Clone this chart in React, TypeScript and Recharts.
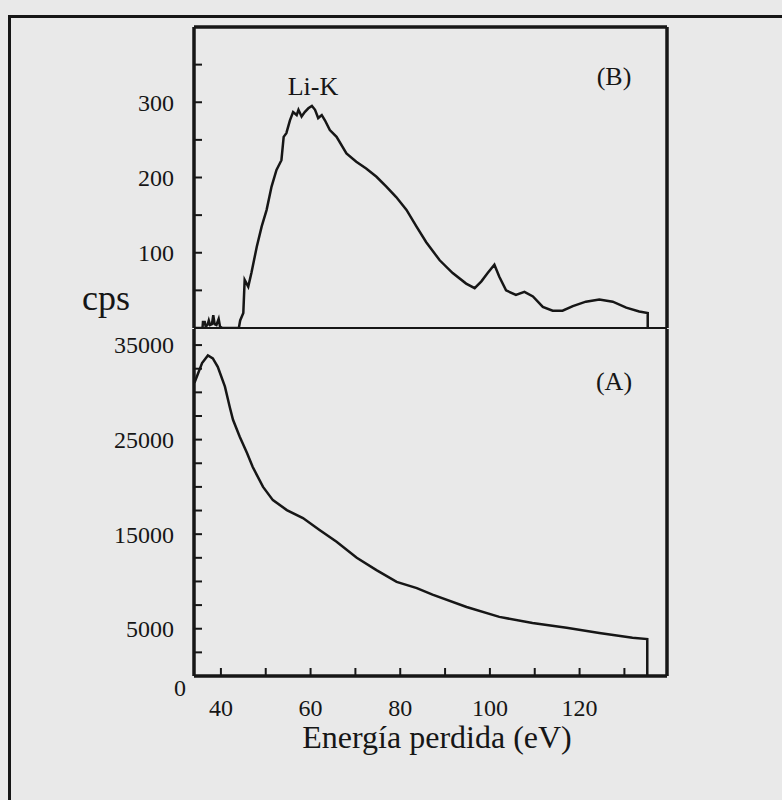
import React from "react";
import { LineChart, Line, XAxis, YAxis, Text } from "recharts";

// energy loss (eV) and counts
const bEnergy = [
  34, 35.9, 36.0, 36.4, 36.6, 37.0, 37.3, 37.6, 38.0, 38.3, 38.6, 39.0, 39.5, 39.8, 40.3,
  44.0, 44.3, 45.0, 45.3, 46.1, 46.8, 48.0, 49.1, 50.2, 51.3, 52.4, 53.5, 54.0, 54.6,
  55.4, 56.1, 56.9, 57.3, 58.0, 58.7, 59.5, 60.3, 61.0, 61.7, 62.5, 63.2, 64.3, 65.8,
  68.0, 70.2, 72.4, 74.7, 76.9, 79.1, 81.4, 83.6, 85.8, 88.8, 91.7, 94.7, 96.6, 98.1,
  99.5, 101.0, 102.1, 103.6, 105.8, 107.7, 109.6, 111.8, 114.0, 116.2, 118.5, 121.4,
  124.4, 127.4, 130.4, 133.3, 135.2, 135.2,
];
const bCounts = [
  0, 0, 8, 8, 2, 4, 10, 4, 5, 17, 5, 4, 12, 2, 0,
  0, 10, 20, 64, 55, 73, 108, 135, 157, 188, 210, 223, 254, 259,
  276, 287, 283, 290, 281, 287, 292, 295, 290, 279, 283, 276, 263, 254,
  232, 221, 212, 201, 188, 174, 157, 135, 114, 90, 73, 59, 53, 62,
  73, 84, 68, 50, 44, 48, 42, 28, 23, 23, 29, 35,
  38, 35, 27, 22, 20, 0,
];

const aEnergy = [
  34.1, 34.9, 35.8, 37.1, 38.2, 39.3, 40.9, 42.0, 42.7, 44.2, 45.8, 47.1, 49.4, 51.6,
  54.7, 58.3, 62.0, 65.8, 70.3, 74.7, 79.2, 83.7, 87.2, 94.8, 102.1, 109.5, 117.1,
  124.4, 131.8, 135.1, 135.1,
];
const aCounts = [
  31000, 32000, 33100, 33900, 33600, 32700, 30600, 28400, 27100, 25300, 23600, 22100,
  20000, 18600, 17550, 16700, 15450, 14200, 12500, 11200, 9950, 9300, 8600, 7300, 6250,
  5600, 5100, 4550, 4050, 3900, 0,
];

const xTicks = [40, 50, 60, 70, 80, 90, 100, 110, 120, 130];
const xLabels = [40, 60, 80, 100, 120];
const bTicks = [0, 50, 100, 150, 200, 250, 300, 350];
const bLabels = [100, 200, 300];
const aTicks = [0, 2500, 5000, 7500, 10000, 12500, 15000, 17500, 20000, 22500, 25000, 27500, 30000, 32500, 35000];
const aLabels = [5000, 15000, 25000, 35000];

const bData = bEnergy.map((e, i) => ({ e, c: bCounts[i] }));
const aData = aEnergy.map((e, i) => ({ e, c: aCounts[i] }));

const INK = "#161616";
const FONT = "'Liberation Serif', 'DejaVu Serif', serif";
const X_DOMAIN: [number, number] = [34, 139.5];

const makeYTick = (labels: number[], showZero: boolean) => (props: any) => {
  const { x, y, payload } = props;
  const v = payload.value;
  return (
    <g>
      {v !== 0 && <line x1={x} x2={x + 8} y1={y} y2={y} stroke={INK} strokeWidth={2} />}
      {labels.includes(v) && (
        <text x={x - 20} y={y} dy="0.35em" textAnchor="end" fontSize={24} fontFamily={FONT} fill={INK}>
          {v}
        </text>
      )}
      {showZero && v === 0 && (
        <text x={x - 14} y={y + 12} dy="0.35em" textAnchor="middle" fontSize={24} fontFamily={FONT} fill={INK}>
          0
        </text>
      )}
    </g>
  );
};

const XTick = (props: any) => {
  const { x, y, payload } = props;
  const v = payload.value;
  return (
    <g>
      <line x1={x} x2={x} y1={y} y2={y - 8} stroke={INK} strokeWidth={2} />
      {xLabels.includes(v) && (
        <text x={x} y={y + 32} dy="0.35em" textAnchor="middle" fontSize={24} fontFamily={FONT} fill={INK}>
          {v}
        </text>
      )}
    </g>
  );
};

const layer: React.CSSProperties = { position: "absolute", left: 0, top: 0 };

export default function App() {
  return (
    <div
      style={{
        position: "absolute",
        left: 0,
        top: 0,
        width: 782,
        height: 800,
        background: "#e9e9e9",
        overflow: "hidden",
        fontFamily: FONT,
      }}
    >
      {/* outer frame of the scanned page */}
      <div
        style={{
          position: "absolute",
          left: 8,
          top: 15,
          width: 800,
          height: 800,
          borderLeft: `3px solid ${INK}`,
          borderTop: `3px solid ${INK}`,
        }}
      />

      {/* panel B */}
      <div style={layer}>
        <LineChart width={782} height={340} data={bData} margin={{ top: 26, left: 193, right: 114, bottom: 11 }}>
          <XAxis
            xAxisId="b"
            dataKey="e"
            type="number"
            domain={X_DOMAIN}
            allowDataOverflow
            height={1}
            tick={false}
            tickLine={false}
            axisLine={{ stroke: INK, strokeWidth: 2 }}
          />
          <XAxis
            xAxisId="t"
            orientation="top"
            dataKey="e"
            type="number"
            domain={X_DOMAIN}
            allowDataOverflow
            height={1}
            tick={false}
            tickLine={false}
            axisLine={{ stroke: INK, strokeWidth: 3.5 }}
          />
          <YAxis
            yAxisId="b"
            type="number"
            domain={[0, 400]}
            allowDataOverflow
            ticks={bTicks}
            interval={0}
            width={1}
            tickSize={0}
            tickMargin={0}
            tickLine={false}
            tick={makeYTick(bLabels, false)}
            axisLine={{ stroke: INK, strokeWidth: 3.5 }}
          />
          <YAxis
            yAxisId="r"
            type="number"
            orientation="right"
            domain={[0, 400]}
            allowDataOverflow
            width={1}
            tick={false}
            tickLine={false}
            axisLine={{ stroke: INK, strokeWidth: 3.5 }}
          />
          <Line
            xAxisId="b"
            yAxisId="b"
            dataKey="c"
            type="linear"
            stroke={INK}
            strokeWidth={2.5}
            strokeLinejoin="miter"
            dot={false}
            isAnimationActive={false}
          />
          <Line
            xAxisId="t"
            yAxisId="r"
            dataKey="c"
            stroke="none"
            dot={false}
            legendType="none"
            isAnimationActive={false}
          />
        </LineChart>
      </div>

      {/* panel A */}
      <div style={layer}>
        <LineChart width={782} height={800} data={aData} margin={{ top: 329, left: 193, right: 114, bottom: 123 }}>
          <XAxis
            xAxisId="a"
            dataKey="e"
            type="number"
            domain={X_DOMAIN}
            allowDataOverflow
            ticks={xTicks}
            interval={0}
            height={1}
            tickSize={0}
            tickMargin={0}
            tickLine={false}
            tick={XTick}
            axisLine={{ stroke: INK, strokeWidth: 3.5 }}
          />
          <YAxis
            yAxisId="a"
            type="number"
            domain={[0, 36700]}
            allowDataOverflow
            ticks={aTicks}
            interval={0}
            width={1}
            tickSize={0}
            tickMargin={0}
            tickLine={false}
            tick={makeYTick(aLabels, true)}
            axisLine={{ stroke: INK, strokeWidth: 3.5 }}
          />
          <YAxis
            yAxisId="r"
            type="number"
            orientation="right"
            domain={[0, 36700]}
            allowDataOverflow
            width={1}
            tick={false}
            tickLine={false}
            axisLine={{ stroke: INK, strokeWidth: 3.5 }}
          />
          <Line
            xAxisId="a"
            yAxisId="a"
            dataKey="c"
            type="linear"
            stroke={INK}
            strokeWidth={2.5}
            dot={false}
            isAnimationActive={false}
          />
          <Line
            xAxisId="a"
            yAxisId="r"
            dataKey="c"
            stroke="none"
            dot={false}
            legendType="none"
            isAnimationActive={false}
          />
        </LineChart>
      </div>

      {/* annotations */}
      <div style={{ position: "absolute", left: 0, top: 0, width: 782, height: 800, pointerEvents: "none" }}>
        <svg width={782} height={800}>
          <Text x={313} y={86} verticalAnchor="middle" textAnchor="middle" fontSize={26} fontFamily={FONT} fill={INK}>
            Li-K
          </Text>
          <Text x={614} y={76} verticalAnchor="middle" textAnchor="middle" fontSize={26} fontFamily={FONT} fill={INK}>
            (B)
          </Text>
          <Text x={614} y={381} verticalAnchor="middle" textAnchor="middle" fontSize={26} fontFamily={FONT} fill={INK}>
            (A)
          </Text>
          <text x={82} y={310} fontSize={36} fontFamily={FONT} fill={INK}>
            cps
          </text>
          <text x={437} y={748} textAnchor="middle" fontSize={32} fontFamily={FONT} fill={INK}>
            Energía perdida (eV)
          </text>
        </svg>
      </div>
    </div>
  );
}
